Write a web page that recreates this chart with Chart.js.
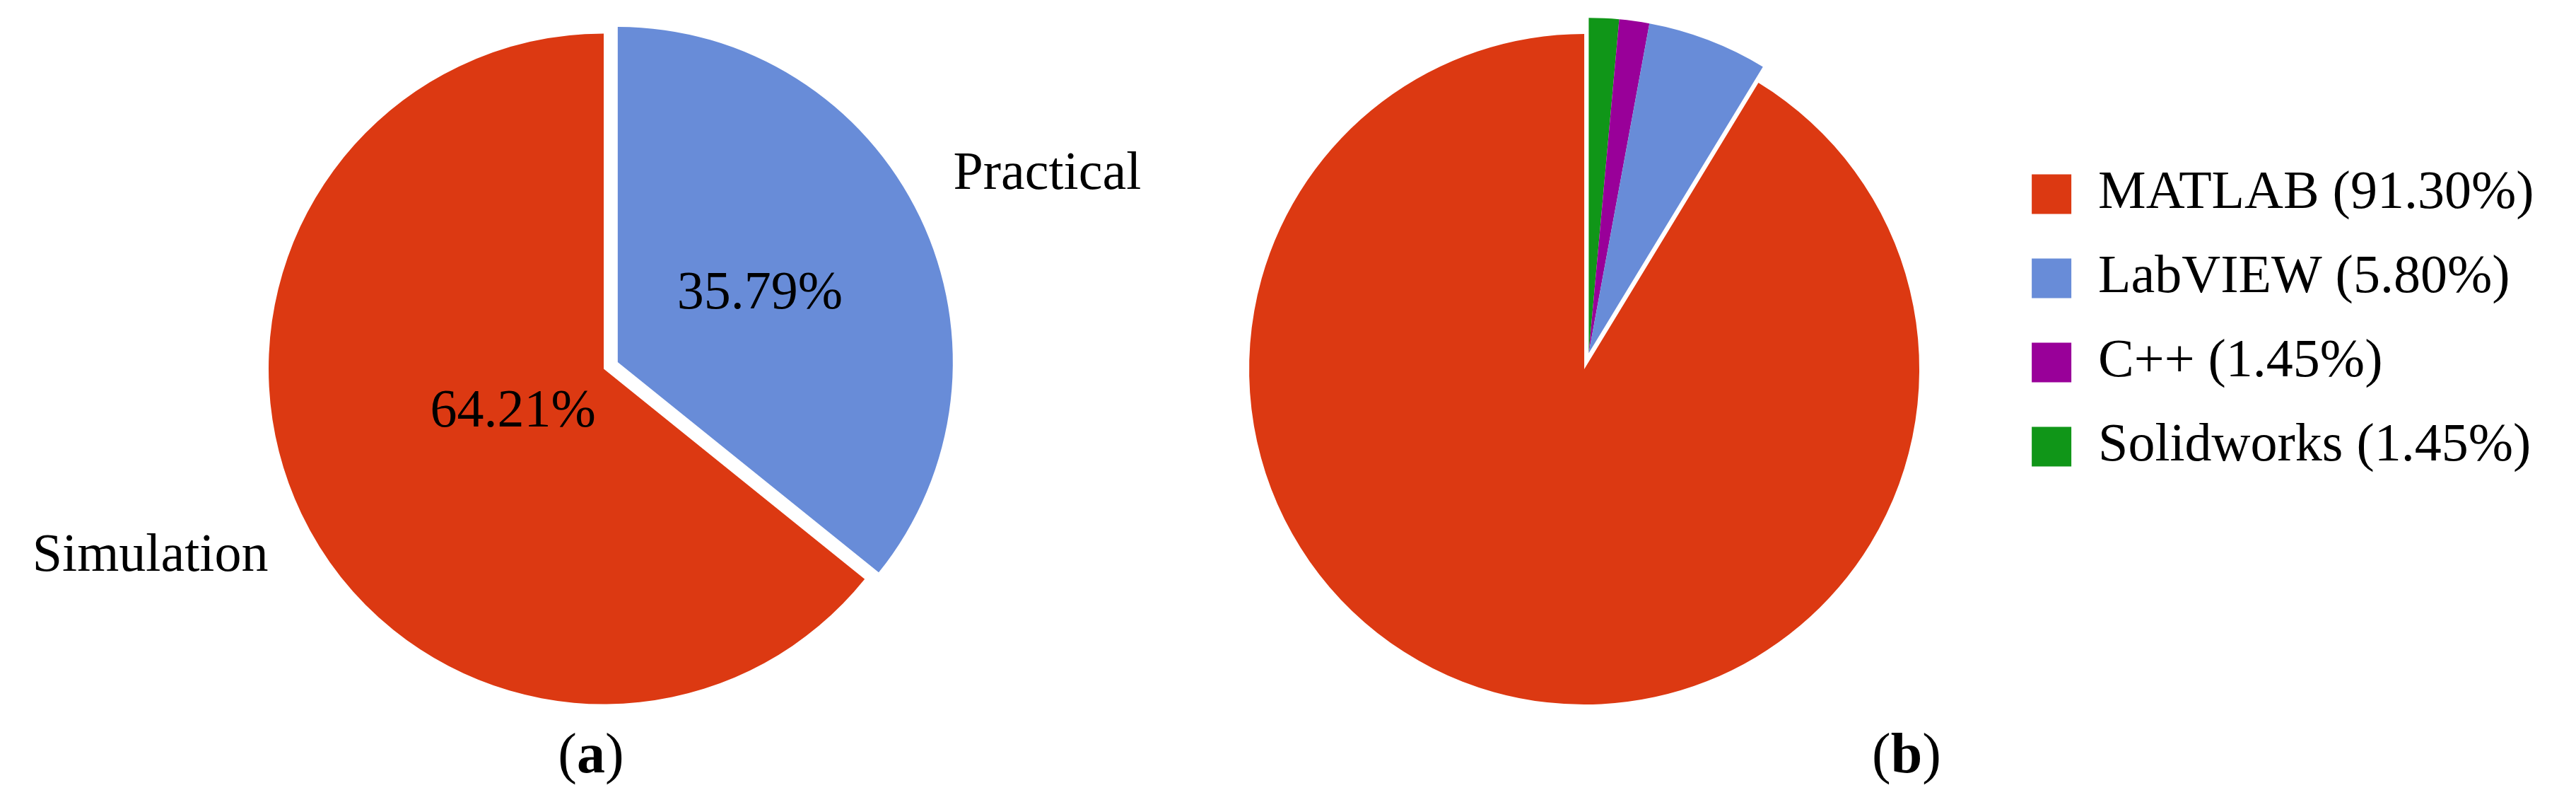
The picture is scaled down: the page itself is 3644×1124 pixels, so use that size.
<!DOCTYPE html>
<html lang="en">
<head>
  <meta charset="UTF-8">
  <title>Simulation vs practical, software used</title>
  <script src="https://cdn.jsdelivr.net/npm/chart.js"></script>
  <style>
    body {
      margin: 0;
      background: #fff;
      width: 3644px;
      height: 1124px;
      position: relative;
      overflow: hidden;
      font-family: 'Palatino Linotype', 'Book Antiqua', Palatino, 'Liberation Serif', serif;
    }

    canvas {
      position: absolute;
      top: 0;
    }

    #chartA { left: 0; }
    #chartB { left: 1500px; }

    .caption {
      position: absolute;
      top: 1025px;
      font-size: 80px;
      line-height: 80px;
      transform: translateX(-50%);
      color: #000;
    }
  </style>
</head>
<body>
  <canvas id="chartA" width="1708" height="1124"></canvas>
  <canvas id="chartB" width="2144" height="1124"></canvas>

  <div class="caption" style="left: 836px">(<b>a</b>)</div>
  <div class="caption" style="left: 2697px">(<b>b</b>)</div>

  <script>
    // (a) type of work, clockwise from 12 o'clock
    const workTypes = ['Practical', 'Simulation'];
    const workShares = [35.79, 64.21];
    const workColors = ['#688CD8', '#DC3912'];

    // (b) software, in legend order
    const tools = ['MATLAB', 'LabVIEW', 'C++', 'Solidworks'];
    const toolShares = [91.30, 5.80, 1.45, 1.45];
    const toolColors = ['#DC3912', '#688CD8', '#990099', '#109618'];

    const serif = "'Palatino Linotype', 'Book Antiqua', Palatino, 'Liberation Serif', serif";
    const RADIUS = 474;

    Chart.defaults.font.family = serif;
    Chart.defaults.color = '#000';

    const pct = v => v.toFixed(2) + '%';

    // pull some slices out of the pie (as one block when several are given)
    const explode = {
      id: 'explode',
      afterDatasetUpdate(chart, args, opts) {
        if (!opts.slices || !opts.slices.length) return;
        const arcs = chart.getDatasetMeta(0).data;
        const first = arcs[opts.slices[0]];
        const last = arcs[opts.slices[opts.slices.length - 1]];
        const mid = (first.startAngle + last.endAngle) / 2;
        opts.slices.forEach(i => {
          arcs[i].x += Math.cos(mid) * opts.distance;
          arcs[i].y += Math.sin(mid) * opts.distance;
        });
      }
    };

    // percent inside the slice, category name outside
    const sliceLabels = {
      id: 'sliceLabels',
      afterDatasetsDraw(chart, args, opts) {
        if (!opts.show) return;
        const ctx = chart.ctx;
        const ds = chart.data.datasets[0];
        ctx.save();
        ctx.font = opts.size + 'px ' + serif;
        ctx.fillStyle = '#000';
        chart.getDatasetMeta(0).data.forEach((arc, i) => {
          const mid = (arc.startAngle + arc.endAngle) / 2;
          const dx = Math.cos(mid), dy = Math.sin(mid);
          const r = arc.outerRadius;

          ctx.textAlign = 'center';
          ctx.textBaseline = 'middle';
          ctx.fillText(pct(ds.data[i]), arc.x + dx * r * opts.inset[i], arc.y + dy * r * opts.inset[i]);

          ctx.textAlign = dx < 0 ? 'right' : 'left';
          ctx.textBaseline = dy > 0 ? 'top' : 'bottom';
          ctx.fillText(chart.data.labels[i], arc.x + dx * r * opts.outside, arc.y + dy * r * opts.outside);
        });
        ctx.restore();
      }
    };

    new Chart(document.getElementById('chartA'), {
      type: 'pie',
      data: {
        labels: workTypes,
        datasets: [{
          data: workShares,
          backgroundColor: workColors,
          borderWidth: 0,
          radius: RADIUS
        }]
      },
      options: {
        responsive: false,
        animation: false,
        events: [],
        layout: { padding: { bottom: 81 } },
        plugins: {
          legend: { display: false },
          tooltip: { enabled: false },
          explode: { slices: [0], distance: 22 },
          sliceLabels: { show: true, size: 76, inset: [0.47, 0.30], outside: 1.11 }
        }
      },
      plugins: [explode, sliceLabels]
    });

    // the pie runs Solidworks, C++, LabVIEW, MATLAB clockwise from the top
    new Chart(document.getElementById('chartB'), {
      type: 'pie',
      data: {
        labels: tools.slice().reverse(),
        datasets: [{
          data: toolShares.slice().reverse(),
          backgroundColor: toolColors.slice().reverse(),
          borderWidth: 0,
          radius: RADIUS
        }]
      },
      options: {
        responsive: false,
        animation: false,
        events: [],
        layout: { padding: { left: 151, right: 49.5, top: 193.5, bottom: 273.5 } },
        plugins: {
          tooltip: { enabled: false },
          explode: { slices: [0, 1, 2], distance: 23.5 },
          legend: {
            position: 'right',
            align: 'start',
            reverse: true,
            labels: {
              boxWidth: 56,
              boxHeight: 56,
              padding: 43,
              color: '#000',
              font: { family: serif, size: 76 },
              generateLabels(chart) {
                const items = Chart.overrides.pie.plugins.legend.labels.generateLabels(chart);
                const ds = chart.data.datasets[0];
                items.forEach(it => {
                  it.text = chart.data.labels[it.index] + ' (' + pct(ds.data[it.index]) + ')';
                  it.lineWidth = 0;
                });
                return items;
              }
            }
          }
        }
      },
      plugins: [explode]
    });
  </script>
</body>
</html>
